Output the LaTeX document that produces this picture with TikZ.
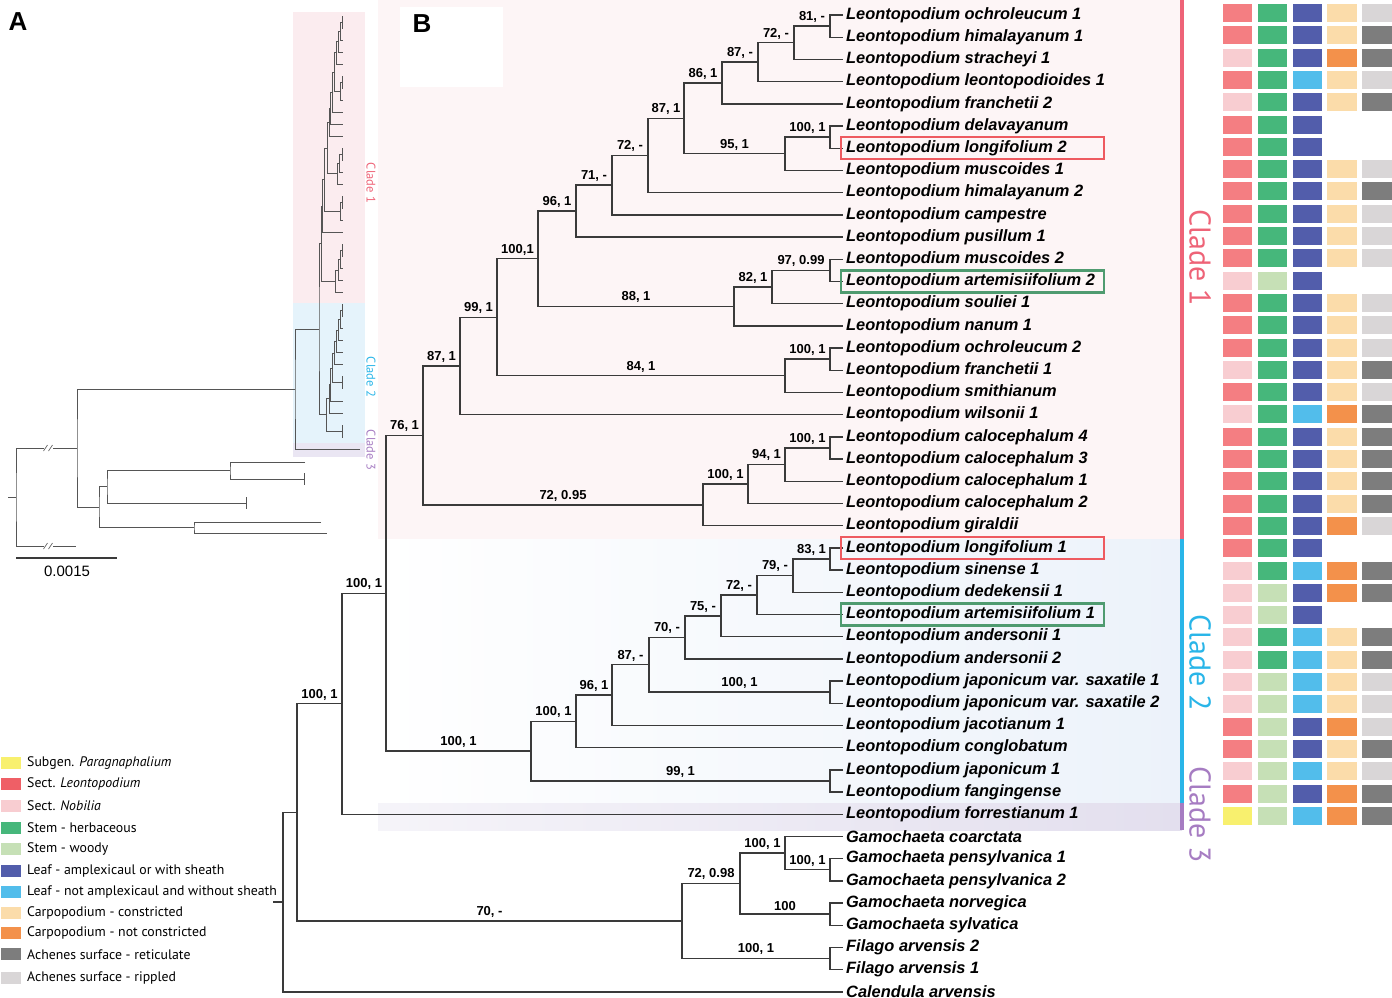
\documentclass[tikz,border=0pt]{standalone}
\usepackage{fontspec}
\setmainfont{Liberation Sans}
\newfontfamily\ptsans{PT Sans}
\usetikzlibrary{calc}
\definecolor{cL}{HTML}{F47E82}
\definecolor{cLleg}{HTML}{EF5F66}
\definecolor{cN}{HTML}{F8CDD1}
\definecolor{cY}{HTML}{F8F06E}
\definecolor{cH}{HTML}{46B77B}
\definecolor{cW}{HTML}{C6E0B6}
\definecolor{cA}{HTML}{525DAB}
\definecolor{cB}{HTML}{52BDEB}
\definecolor{cC}{HTML}{FBDCAA}
\definecolor{cO}{HTML}{F3914B}
\definecolor{cR}{HTML}{7D7D7D}
\definecolor{cP}{HTML}{D9D6D7}
\definecolor{cladeone}{HTML}{EE6377}
\definecolor{cladetwo}{HTML}{29B5E8}
\definecolor{cladethree}{HTML}{A67CC2}
\definecolor{bgone}{HTML}{FDF5F6}
\definecolor{bgtwo}{HTML}{ECF2FA}
\definecolor{bgthree}{HTML}{E3DFEE}
\definecolor{abgone}{HTML}{FBECEF}
\definecolor{abgtwo}{HTML}{E5F3FB}
\definecolor{abgthree}{HTML}{EAE6F3}
\definecolor{boxred}{HTML}{EE5A60}
\definecolor{boxgreen}{HTML}{4F9B70}
\definecolor{treecol}{HTML}{3A3A3A}
\definecolor{treeacol}{HTML}{555555}

\newcommand\ingroup{%
 \foreach \k in {1,...,36}{\coordinate (\P L\k) at ({\MX{843}},{\MY{15+(\k-1)*22.2}});}
 \coordinate (\P A) at ({\MX{830}},{\MY{26.1}});
 \coordinate (\P B) at ({\MX{794}},{\MY{42.75}});
 \coordinate (\P C) at ({\MX{758}},{\MY{62.18}});
 \coordinate (\P D) at ({\MX{722}},{\MY{82.99}});
 \coordinate (\P E) at ({\MX{830}},{\MY{137.1}});
 \coordinate (\P F) at ({\MX{785}},{\MY{153.75}});
 \coordinate (\P G) at ({\MX{684}},{\MY{118.37}});
 \coordinate (\P H) at ({\MX{648}},{\MY{155.49}});
 \coordinate (\P I) at ({\MX{612}},{\MY{185.14}});
 \coordinate (\P J) at ({\MX{576}},{\MY{211.07}});
 \coordinate (\P K) at ({\MX{830}},{\MY{270.3}});
 \coordinate (\P KK) at ({\MX{772}},{\MY{286.95}});
 \coordinate (\P M) at ({\MX{734}},{\MY{306.38}});
 \coordinate (\P N) at ({\MX{538}},{\MY{258.72}});
 \coordinate (\P O) at ({\MX{830}},{\MY{359.1}});
 \coordinate (\P P) at ({\MX{785}},{\MY{375.75}});
 \coordinate (\P Q) at ({\MX{497}},{\MY{317.24}});
 \coordinate (\P R) at ({\MX{460}},{\MY{365.92}});
 \coordinate (\P S) at ({\MX{830}},{\MY{447.9}});
 \coordinate (\P T) at ({\MX{785}},{\MY{464.55}});
 \coordinate (\P U) at ({\MX{748}},{\MY{483.98}});
 \coordinate (\P V) at ({\MX{703}},{\MY{504.79}});
 \coordinate (\P W) at ({\MX{423}},{\MY{435.35}});
 \coordinate (\P a) at ({\MX{830}},{\MY{558.9}});
 \coordinate (\P b) at ({\MX{793}},{\MY{575.55}});
 \coordinate (\P c) at ({\MX{757}},{\MY{594.98}});
 \coordinate (\P d) at ({\MX{721}},{\MY{615.79}});
 \coordinate (\P e) at ({\MX{685}},{\MY{637.29}});
 \coordinate (\P f) at ({\MX{830}},{\MY{692.1}});
 \coordinate (\P g) at ({\MX{649}},{\MY{664.7}});
 \coordinate (\P h) at ({\MX{612}},{\MY{695.05}});
 \coordinate (\P i) at ({\MX{576}},{\MY{721.33}});
 \coordinate (\P j) at ({\MX{830}},{\MY{780.9}});
 \coordinate (\P k) at ({\MX{531}},{\MY{751.11}});
 \coordinate (\P l) at ({\MX{386}},{\MY{593.23}});
 \draw[curtree] (\P L1) -| (\P A) |- (\P L2);
 \draw[curtree] (\P A) -| (\P B) |- (\P L3);
 \draw[curtree] (\P B) -| (\P C) |- (\P L4);
 \draw[curtree] (\P C) -| (\P D) |- (\P L5);
 \draw[curtree] (\P L6) -| (\P E) |- (\P L7);
 \draw[curtree] (\P E) -| (\P F) |- (\P L8);
 \draw[curtree] (\P D) -| (\P G) |- (\P F);
 \draw[curtree] (\P G) -| (\P H) |- (\P L9);
 \draw[curtree] (\P H) -| (\P I) |- (\P L10);
 \draw[curtree] (\P I) -| (\P J) |- (\P L11);
 \draw[curtree] (\P L12) -| (\P K) |- (\P L13);
 \draw[curtree] (\P K) -| (\P KK) |- (\P L14);
 \draw[curtree] (\P KK) -| (\P M) |- (\P L15);
 \draw[curtree] (\P J) -| (\P N) |- (\P M);
 \draw[curtree] (\P L16) -| (\P O) |- (\P L17);
 \draw[curtree] (\P O) -| (\P P) |- (\P L18);
 \draw[curtree] (\P N) -| (\P Q) |- (\P P);
 \draw[curtree] (\P Q) -| (\P R) |- (\P L19);
 \draw[curtree] (\P L20) -| (\P S) |- (\P L21);
 \draw[curtree] (\P S) -| (\P T) |- (\P L22);
 \draw[curtree] (\P T) -| (\P U) |- (\P L23);
 \draw[curtree] (\P U) -| (\P V) |- (\P L24);
 \draw[curtree] (\P R) -| (\P W) |- (\P V);
 \draw[curtree] (\P L25) -| (\P a) |- (\P L26);
 \draw[curtree] (\P a) -| (\P b) |- (\P L27);
 \draw[curtree] (\P b) -| (\P c) |- (\P L28);
 \draw[curtree] (\P c) -| (\P d) |- (\P L29);
 \draw[curtree] (\P d) -| (\P e) |- (\P L30);
 \draw[curtree] (\P L31) -| (\P f) |- (\P L32);
 \draw[curtree] (\P e) -| (\P g) |- (\P f);
 \draw[curtree] (\P g) -| (\P h) |- (\P L33);
 \draw[curtree] (\P h) -| (\P i) |- (\P L34);
 \draw[curtree] (\P L35) -| (\P j) |- (\P L36);
 \draw[curtree] (\P i) -| (\P k) |- (\P j);
 \draw[curtree] (\P W) -| (\P l) |- (\P k);
}

\begin{document}
\begin{tikzpicture}[x=1pt,y=-1pt,
  treeB/.style={draw=treecol, line width=1.4pt},
  treeA/.style={draw=treeacol, line width=0.8pt},
  leaf/.style={anchor=west, inner xsep=3pt, inner ysep=0pt, font=\fontsize{16.4}{16.4}\selectfont\bfseries\itshape},
  sup/.style={midway, above=3pt, inner sep=0.5pt, font=\fontsize{13}{13}\selectfont\bfseries},
  tbox/.style={minimum width=29.5pt, minimum height=18pt, inner sep=0pt, draw=none},
  lgsw/.style={minimum width=20pt, minimum height=12pt, inner sep=0pt, draw=none},
  lgtext/.style={anchor=west, inner sep=0pt, font=\ptsans\fontsize{13.8}{13.8}\selectfont},
  clab/.style={rotate=-90, inner sep=0pt, font=\ptsans\fontsize{30}{30}\selectfont},
  aclab/.style={rotate=-90, inner sep=0pt, font=\ptsans\fontsize{12.5}{12.5}\selectfont},
  panel/.style={inner sep=0pt, font=\fontsize{26}{26}\selectfont\bfseries}]
\useasboundingbox (0,0) rectangle (1392,997);

% ---------- backgrounds panel B
\fill[bgone] (378,0) rectangle (1182,539);
\fill[white] (400,7) rectangle (503,87);
\shade[left color=white, right color=bgtwo] (378,539) rectangle (1182,803);
\shade[left color=bgthree!35, right color=bgthree] (378,803) rectangle (1182,830);

% ---------- backgrounds panel A
\fill[abgone] (293,12) rectangle (365,303);
\fill[abgtwo] (293,303) rectangle (365,443);
\fill[abgthree] (293,443) rectangle (365,457);

% ---------- panel A tree
\begin{scope}
 \tikzset{curtree/.style={treeA}}
 \def\P{a}
 \def\MX#1{319+((#1)-386)*0.0525}
 \def\MY#1{16+((#1)-15)*0.5418}
 \ingroup
 \coordinate (aL37) at (360,449);
 \coordinate (am) at (295,389.2);
 \coordinate (aX1) at (77,448);
 \coordinate (aX2) at (99,507);
 \coordinate (aX3) at (107,486.5);
 \coordinate (aX4) at (194,527.5);
 \coordinate (aX5) at (230,470.5);
 \coordinate (aT1) at (305,462);
 \coordinate (aT2) at (304,479);
 \coordinate (aT3) at (246,503);
 \coordinate (aT4) at (321,522);
 \coordinate (aT5) at (327,533);
 \coordinate (aroot) at (16,497);
 \coordinate (aroot0) at (8,497);
 \coordinate (aOut) at (76,546);
 \draw[treeA] (al) -| (am) |- (aL37);
 \draw[treeA] (am) -| (aX1) |- (aX2);
 \draw[treeA] (aX5) -| (aX3) |- (aT3);
 \draw[treeA] (aT1) -| (aX5) |- (aT2);
 \draw[treeA] (aX3) -| (aX2) |- (aX4);
 \draw[treeA] (aT4) -| (aX4) |- (aT5);
 \draw[treeA] (aX1) -| (aroot) |- (aOut);
 \draw[treeA] (aroot0) -- (aroot);
 \draw[treeA] ([yshift=6pt]aT2) -- ([yshift=-6pt]aT2);
 \draw[treeA] ([yshift=6pt]aT3) -- ([yshift=-6pt]aT3);
 \foreach \yy in {448,546}{
   \fill[white] (44,\yy-4) rectangle (53,\yy+4);
   \draw[treeA, line width=0.6pt] (43.5,\yy+3) -- (47.5,\yy-3);
   \draw[treeA, line width=0.6pt] (48.5,\yy+3) -- (52.5,\yy-3);
 }
\end{scope}
\coordinate (sb1) at (16,558);
\coordinate (sb2) at (117,558);
\draw[line width=2.5pt, treecol] (sb1) -- (sb2);
\node[inner sep=0pt, font=\fontsize{15}{15}\selectfont] (sbl) at (67,571) {0.0015};
\node[aclab, text=cladeone] (acl1) at (371,183) {Clade 1};
\node[aclab, text=cladetwo] (acl2) at (371,377) {Clade 2};
\node[aclab, text=cladethree] (acl3) at (371,450) {Clade 3};

% ---------- panel B tree
\begin{scope}
 \tikzset{curtree/.style={treeB}}
 \def\P{b}
 \def\MX#1{#1}
 \def\MY#1{#1}
 \ingroup
\end{scope}
\foreach \k in {37,...,45}{\coordinate (bL\k) at (843,{15+(\k-1)*22.2});}
\coordinate (bm) at (342,703.72);
\coordinate (bn) at (830,869.7);
\coordinate (bo) at (785,853.05);
\coordinate (bp) at (830,914.1);
\coordinate (bq) at (740,883.58);
\coordinate (br) at (830,958.5);
\coordinate (bs) at (682,921.04);
\coordinate (bt) at (297,812.38);
\coordinate (broot) at (283,902.09);
\coordinate (broot0) at (273,902.09);
\draw[treeB] (bl) -| (bm) |- (bL37);
\draw[treeB] (bL39) -| (bn) |- (bL40);
\draw[treeB] (bL38) -| (bo) |- (bn);
\draw[treeB] (bL41) -| (bp) |- (bL42);
\draw[treeB] (bo) -| (bq) |- (bp);
\draw[treeB] (bL43) -| (br) |- (bL44);
\draw[treeB] (bq) -| (bs) |- (br);
\draw[treeB] (bm) -| (bt) |- (bs);
\draw[treeB] (bt) -| (broot) |- (bL45);
\draw[treeB] (broot0) -- (broot);

% support labels
\path (bB|-bA) -- (bA) node[sup]{81, -};
\path (bC|-bB) -- (bB) node[sup]{72, -};
\path (bD|-bC) -- (bC) node[sup]{87, -};
\path (bG|-bD) -- (bD) node[sup]{86, 1};
\path (bF|-bE) -- (bE) node[sup]{100, 1};
\path (bG|-bF) -- (bF) node[sup]{95, 1};
\path (bH|-bG) -- (bG) node[sup]{87, 1};
\path (bI|-bH) -- (bH) node[sup]{72, -};
\path (bJ|-bI) -- (bI) node[sup]{71, -};
\path (bN|-bJ) -- (bJ) node[sup]{96, 1};
\path (bKK|-bK) -- (bK) node[sup]{97, 0.99};
\path (bM|-bKK) -- (bKK) node[sup]{82, 1};
\path (bN|-bM) -- (bM) node[sup]{88, 1};
\path (bQ|-bN) -- (bN) node[sup]{100,1};
\path (bP|-bO) -- (bO) node[sup]{100, 1};
\path (bQ|-bP) -- (bP) node[sup]{84, 1};
\path (bR|-bQ) -- (bQ) node[sup]{99, 1};
\path (bW|-bR) -- (bR) node[sup]{87, 1};
\path (bT|-bS) -- (bS) node[sup]{100, 1};
\path (bU|-bT) -- (bT) node[sup]{94, 1};
\path (bV|-bU) -- (bU) node[sup]{100, 1};
\path (bW|-bV) -- (bV) node[sup]{72, 0.95};
\path (bl|-bW) -- (bW) node[sup]{76, 1};
\path (bb|-ba) -- (ba) node[sup]{83, 1};
\path (bc|-bb) -- (bb) node[sup]{79, -};
\path (bd|-bc) -- (bc) node[sup]{72, -};
\path (be|-bd) -- (bd) node[sup]{75, -};
\path (bg|-be) -- (be) node[sup]{70, -};
\path (bg|-bf) -- (bf) node[sup]{100, 1};
\path (bh|-bg) -- (bg) node[sup]{87, -};
\path (bi|-bh) -- (bh) node[sup]{96, 1};
\path (bk|-bi) -- (bi) node[sup]{100, 1};
\path (bk|-bj) -- (bj) node[sup]{99, 1};
\path (bl|-bk) -- (bk) node[sup]{100, 1};
\path (bm|-bl) -- (bl) node[sup]{100, 1};
\path (bt|-bm) -- (bm) node[sup]{100, 1};
\path (bo|-bn) -- (bn) node[sup]{100, 1};
\path (bq|-bo) -- (bo) node[sup]{100, 1};
\path (bq|-bp) -- (bp) node[sup]{100};
\path (bs|-bq) -- (bq) node[sup]{72, 0.98};
\path (bs|-br) -- (br) node[sup]{100, 1};
\path (bt|-bs) -- (bs) node[sup]{70, -};

% leaf names
\foreach \k/\t in {
 1/{Leontopodium ochroleucum 1},
 2/{Leontopodium himalayanum 1},
 3/{Leontopodium stracheyi 1},
 4/{Leontopodium leontopodioides 1},
 5/{Leontopodium franchetii 2},
 6/{Leontopodium delavayanum},
 7/{Leontopodium longifolium 2},
 8/{Leontopodium muscoides 1},
 9/{Leontopodium himalayanum 2},
 10/{Leontopodium campestre},
 11/{Leontopodium pusillum 1},
 12/{Leontopodium muscoides 2},
 13/{Leontopodium artemisiifolium 2},
 14/{Leontopodium souliei 1},
 15/{Leontopodium nanum 1},
 16/{Leontopodium ochroleucum 2},
 17/{Leontopodium franchetii 1},
 18/{Leontopodium smithianum},
 19/{Leontopodium wilsonii 1},
 20/{Leontopodium calocephalum 4},
 21/{Leontopodium calocephalum 3},
 22/{Leontopodium calocephalum 1},
 23/{Leontopodium calocephalum 2},
 24/{Leontopodium giraldii},
 25/{Leontopodium longifolium 1},
 26/{Leontopodium sinense 1},
 27/{Leontopodium dedekensii 1},
 28/{Leontopodium artemisiifolium 1},
 29/{Leontopodium andersonii 1},
 30/{Leontopodium andersonii 2},
 31/{Leontopodium japonicum var. saxatile 1},
 32/{Leontopodium japonicum var. saxatile 2},
 33/{Leontopodium jacotianum 1},
 34/{Leontopodium conglobatum},
 35/{Leontopodium japonicum 1},
 36/{Leontopodium fangingense},
 37/{Leontopodium forrestianum 1},
 38/{Gamochaeta coarctata},
 39/{Gamochaeta pensylvanica 1},
 40/{Gamochaeta pensylvanica 2},
 41/{Gamochaeta norvegica},
 42/{Gamochaeta sylvatica},
 43/{Filago arvensis 2},
 44/{Filago arvensis 1},
 45/{Calendula arvensis}}
 {\node[leaf] (T\k) at (bL\k) {\t};}

% highlight boxes
\foreach \k/\c in {7/boxred,13/boxgreen,25/boxred,28/boxgreen}{
 \draw[\c, line width=2.2pt] ($(bL\k)+(-2,-11)$) rectangle ($(bL\k)+(261,11)$);
}

% clade bars and labels
\coordinate (cb0) at (1182,0);
\coordinate (cb1) at (1182,539);
\coordinate (cb2) at (1182,803);
\coordinate (cb3) at (1182,830);
\draw[cladeone, line width=4pt] (cb0) -- (cb1);
\draw[cladetwo, line width=4pt] (cb1) -- (cb2);
\draw[cladethree, line width=4pt] (cb2) -- (cb3);
\node[clab, text=cladeone] (cl1) at (1200,258) {Clade 1};
\node[clab, text=cladetwo] (cl2) at (1200,663) {Clade 2};
\node[clab, text=cladethree] (cl3) at (1200,815) {Clade 3};

% trait boxes
\foreach \r/\a/\b/\c/\d/\e in {
 1/L/H/A/C/P, 2/L/H/A/C/R, 3/N/H/A/O/R, 4/L/H/B/C/P, 5/N/H/A/C/R,
 6/L/H/A/X/X, 7/L/H/A/X/X, 8/L/H/A/C/P, 9/L/H/A/C/R, 10/L/H/A/C/P,
 11/L/H/A/C/P, 12/L/H/A/C/P, 13/N/W/A/X/X, 14/L/H/A/C/P, 15/L/H/A/C/P,
 16/L/H/A/C/P, 17/N/H/A/C/R, 18/L/H/A/C/P, 19/N/H/B/O/R, 20/L/H/A/C/R,
 21/L/H/A/C/R, 22/L/H/A/C/R, 23/L/H/A/C/R, 24/L/H/A/O/P, 25/L/H/A/X/X,
 26/N/H/B/O/R, 27/N/W/A/O/R, 28/N/W/A/X/X, 29/N/H/B/C/R, 30/N/H/B/C/R,
 31/N/W/B/C/P, 32/N/W/B/C/P, 33/L/W/A/O/P, 34/L/W/A/C/R, 35/N/W/B/C/P,
 36/L/W/A/O/R, 37/Y/W/B/O/R}{
 \foreach \v [count=\ci] in {\a,\b,\c,\d,\e}{
   \if X\v\else
   \node[tbox, fill=c\v] (bx\r-\ci) at ({1237.5+(\ci-1)*34.9},{13+(\r-1)*22.3}) {};
   \fi
 }
}

% legend
\foreach \i/\yy/\c/\t in {
 1/763.3/cY/{Subgen. \textit{Paragnaphalium}},
 2/784.3/cLleg/{Sect. \textit{Leontopodium}},
 3/806/cN/{Sect. \textit{Nobilia}},
 4/827.7/cH/{Stem - herbaceous},
 5/849/cW/{Stem - woody},
 6/870.7/cA/{Leaf - amplexicaul or with sheath},
 7/892.3/cB/{Leaf - not amplexicaul and without sheath},
 8/913.3/cC/{Carpopodium - constricted},
 9/932.7/cO/{Carpopodium - not constricted},
 10/954.3/cR/{Achenes surface - reticulate},
 11/977.7/cP/{Achenes surface - rippled}}{
 \node[lgsw, fill=\c] (sw\i) at (11,\yy) {};
 \node[lgtext] (lt\i) at (27,\yy) {\t};
}

% panel letters
\node[panel] (pA) at (18,22) {A};
\node[panel] (pB) at (422,24) {B};
\end{tikzpicture}
\end{document}
